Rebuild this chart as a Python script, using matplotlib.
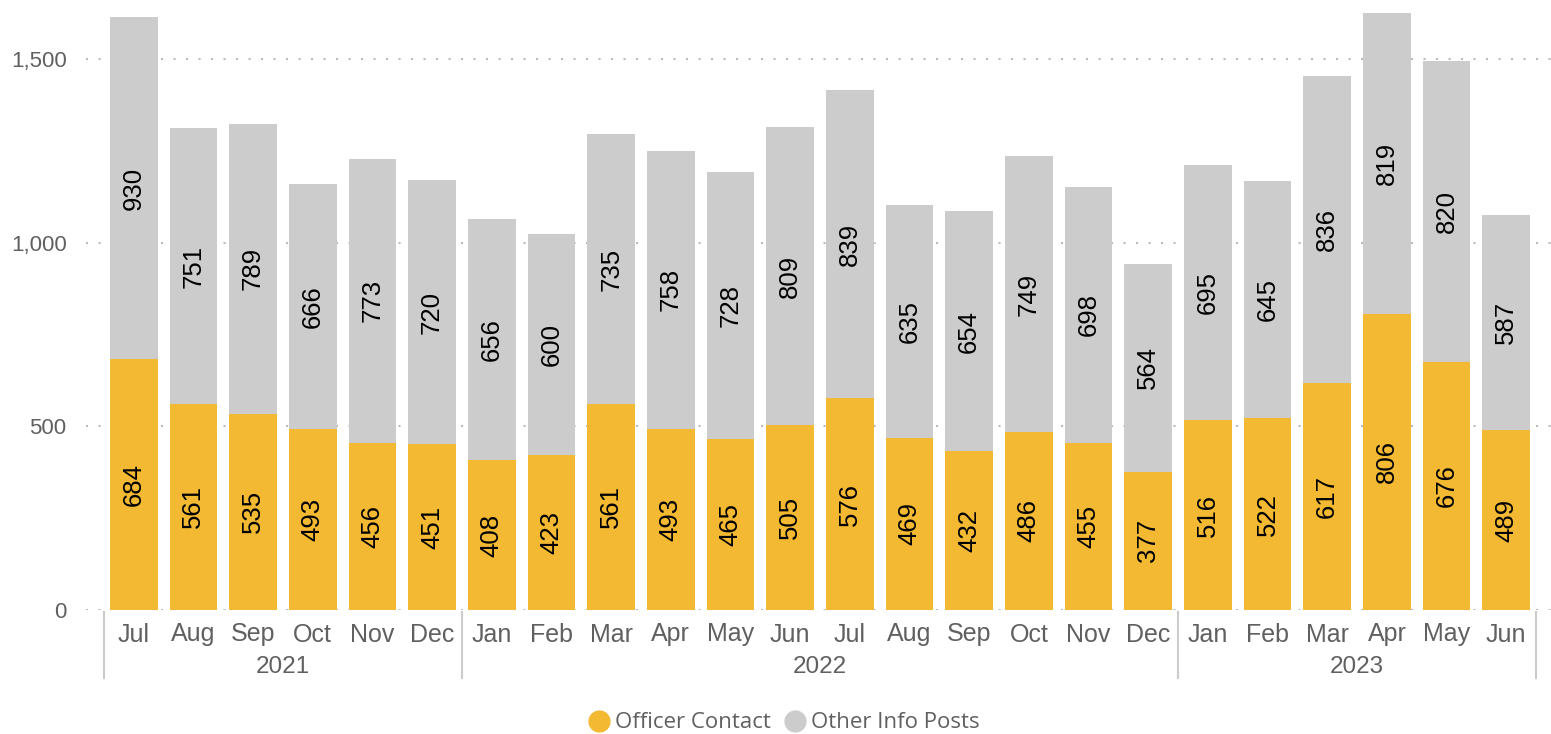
import matplotlib
matplotlib.use('Agg')
import matplotlib.pyplot as plt
from matplotlib.lines import Line2D
from matplotlib.transforms import blended_transform_factory

months = ['Jul', 'Aug', 'Sep', 'Oct', 'Nov', 'Dec',
          'Jan', 'Feb', 'Mar', 'Apr', 'May', 'Jun', 'Jul', 'Aug', 'Sep', 'Oct', 'Nov', 'Dec',
          'Jan', 'Feb', 'Mar', 'Apr', 'May', 'Jun']
years = ['2021', '2022', '2023']
year_counts = [6, 12, 6]
officer_contact = [684, 561, 535, 493, 456, 451, 408, 423, 561, 493, 465, 505,
                   576, 469, 432, 486, 455, 377, 516, 522, 617, 806, 676, 489]
other_info = [930, 751, 789, 666, 773, 720, 656, 600, 735, 758, 728, 809,
              839, 635, 654, 749, 698, 564, 695, 645, 836, 819, 820, 587]

yellow = '#F4B933'
grey = '#CCCCCC'
txt = '#606060'

fig = plt.figure(figsize=(15.51, 7.34), dpi=100)
ax = fig.add_axes([86 / 1551, 1 - 610 / 734, 1465 / 1551, 610 / 734])

x = list(range(len(months)))
ax.bar(x, officer_contact, width=0.8, color=yellow)
ax.bar(x, other_info, width=0.8, bottom=officer_contact, color=grey)

for i in x:
    ax.text(i, officer_contact[i] / 2, str(officer_contact[i]), rotation=90,
            ha='center', va='center', fontsize=18.5, family='Liberation Sans', color='black')
    ax.text(i, officer_contact[i] + other_info[i] / 2, str(other_info[i]), rotation=90,
            ha='center', va='center', fontsize=18.5, family='Liberation Sans', color='black')

ax.set_xlim(-0.8, 23.75)
ax.set_ylim(0, 1661)
ax.set_yticks([0, 500, 1000, 1500])
ax.set_yticklabels(['0', '500', '1,000', '1,500'], family='Liberation Sans', fontsize=16, color=txt)
ax.set_xticks(x)
ax.set_xticklabels(months, family='Liberation Sans', fontsize=18, color=txt)
ax.tick_params(axis='both', length=0)
ax.tick_params(axis='y', pad=14)
ax.tick_params(axis='x', pad=9)
for s in ax.spines.values():
    s.set_visible(False)
ax.yaxis.grid(True, color='#BBBBBB', linestyle=(0, (1, 5)), linewidth=1.5)
ax.set_axisbelow(True)

# year group separators and labels
trans = blended_transform_factory(ax.transData, ax.transAxes)
edges = [-0.5]
for n in year_counts:
    edges.append(edges[-1] + n)
for e in edges:
    ax.add_line(Line2D([e, e], [-0.003, -0.112], transform=trans, color='#CCCCCC',
                       linewidth=1.5, clip_on=False))
for k, yr in enumerate(years):
    mid = (edges[k] + edges[k + 1]) / 2
    ax.text(mid, -0.093, yr, transform=trans, ha='center', va='center',
            family='Liberation Sans', fontsize=17.5, color=txt)

# legend
handles = [Line2D([], [], marker='o', linestyle='', markersize=15, color=yellow),
           Line2D([], [], marker='o', linestyle='', markersize=15, color=grey)]
fig.legend(handles, ['Officer Contact', 'Other Info Posts'], loc='center',
           bbox_to_anchor=(778 / 1551, 1 - 723 / 734), ncol=2, frameon=False,
           handletextpad=-0.3, columnspacing=0.1, prop={'family': 'Open Sans', 'size': 16},
           labelcolor=txt)

fig.savefig('out.png', dpi=100)
